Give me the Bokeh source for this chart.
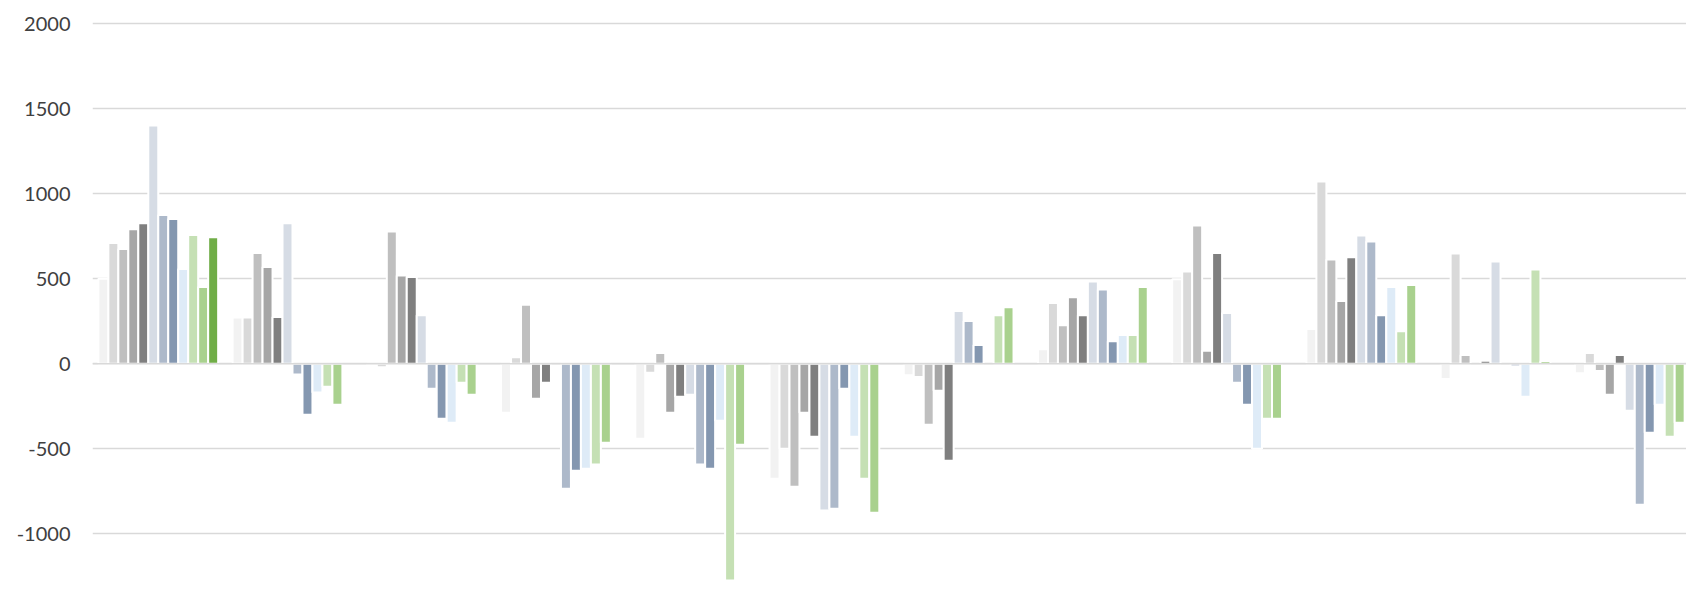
import numpy as np
from bokeh.plotting import figure
from bokeh.models import ColumnDataSource, Range1d, FixedTicker, Span
from bokeh.transform import dodge
from bokeh.embed import file_html
from bokeh.resources import INLINE

nan = float("nan")

categories = ["G1", "G2", "G3", "G4", "G5", "G6", "G7", "G8", "G9", "G10", "G11", "G12"]
series_names = ["S1", "S2", "S3", "S4", "S5", "S6", "S7", "S8", "S9", "S10", "S11", "S12"]

s1 = [500, 272, -12, -288, -441, -676, -67, 86, 498, 204, -90, -55]
s2 = [710, 272, -20, 39, -53, -500, -78, 357, 543, 1073, 649, 63]
s3 = [675, 651, 778, 347, 63, -724, -359, 227, 814, 614, 51, -43]
s4 = [792, 569, 520, -206, -288, -288, -159, 392, 76, 369, nan, -182]
s5 = [827, 275, 510, -112, -194, -429, -571, 286, 651, 627, 18, 51]
s6 = [1402, 827, 286, nan, -182, -863, 310, 484, 298, 755, 602, -276]
s7 = [875, -63, -147, -735, -592, -853, 251, 437, -112, 720, nan, -829]
s8 = [851, -300, -324, -629, -618, -147, 110, 133, -241, 286, -15, -406]
s9 = [557, -169, -347, -618, -335, -429, nan, 169, -500, 451, -194, -241]
s10 = [757, -135, -112, -592, -1275, -676, 286, 169, -324, 192, 555, -429]
s11 = [451, -241, -182, -465, -476, -876, 333, 451, -324, 463, 16, -347]
s12 = [745, nan, nan, nan, nan, nan, nan, nan, nan, nan, nan, nan]

series = [s1, s2, s3, s4, s5, s6, s7, s8, s9, s10, s11, s12]

colors = ["#f2f2f2", "#d9d9d9", "#bfbfbf", "#a6a6a6", "#7f7f7f",
          "#d6dce5", "#adb9ca", "#8497b0", "#deebf7",
          "#c5e0b4", "#a9d18e", "#70ad47"]

tick_values = [-1500, -1000, -500, 0, 500, 1000, 1500, 2000]
tick_labels = ["-1500", "-1000", "-500", "0", "500", "1000", "1500", "2000"]

data = {"x": [i + 0.5 for i in range(len(categories))], "cat": categories}
for name, vals in zip(series_names, series):
    data[name] = np.array(vals, dtype=float)
source = ColumnDataSource(data)

pitch = 0.07435
left = 92
x0 = 0.01
x1 = x0 + (1694 - left) / 134.9

p = figure(width=1686, height=596, output_backend="svg", toolbar_location=None,
           x_range=Range1d(x0, x1), y_range=Range1d(-1369, 2090),
           x_axis_location=None, min_border_left=left, min_border_right=0,
           min_border_top=8, min_border_bottom=0)
p.outline_line_color = None
p.background_fill_color = "white"
p.border_fill_color = "white"
p.xgrid.visible = False
p.ygrid.ticker = FixedTicker(ticks=tick_values)
p.ygrid.grid_line_color = "#d9d9d9"
p.ygrid.grid_line_width = 1.5

ax = p.yaxis[0]
ax.ticker = FixedTicker(ticks=tick_values)
ax.major_label_overrides = {v: l for v, l in zip(tick_values, tick_labels)}
ax.axis_line_color = None
ax.major_tick_line_color = None
ax.minor_tick_line_color = None
ax.major_tick_in = 0
ax.major_tick_out = 0
ax.major_label_standoff = 22
ax.major_label_text_font = "Lato"
ax.major_label_text_font_size = "20px"
ax.major_label_text_color = "#404040"

n = len(series_names)
for j, (name, col) in enumerate(zip(series_names, colors)):
    off = (j - (n - 1) / 2) * pitch
    p.vbar(x=dodge("x", off), top=name, bottom=0, width=pitch, source=source,
           fill_color=col, line_color="white", line_width=2)

p.add_layout(Span(location=0, dimension="width", line_color="#d9d9d9",
                  line_width=1.5, level="overlay"))

open("out.html", "w").write(file_html(p, INLINE))
